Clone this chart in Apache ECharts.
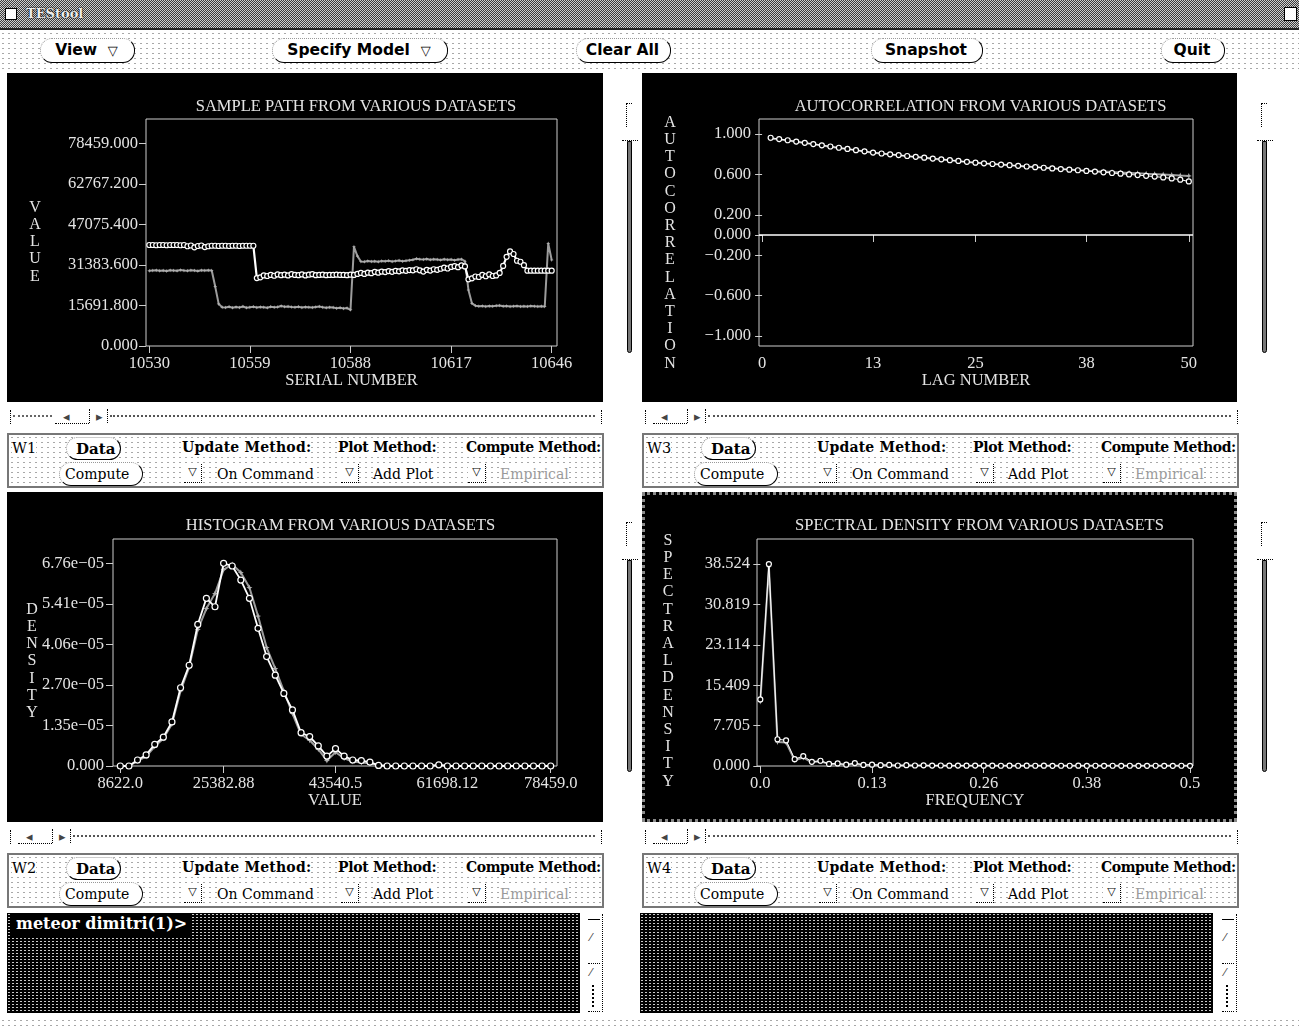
<!DOCTYPE html>
<html>
<head>
<meta charset="utf-8">
<title>TEStool</title>
<script src="https://cdn.jsdelivr.net/npm/echarts@6.0.0/dist/echarts.min.js"></script>
<style>
html,body{margin:0;padding:0;}
body{width:1299px;height:1030px;position:relative;overflow:hidden;background:#fff;font-family:"DejaVu Serif",serif;color:#000;}
.a{position:absolute;}
.dots{background-image:radial-gradient(circle,#a8a8a8 0.55px,transparent 0.75px);background-size:6px 5px;}
#titlebar{left:0;top:0;width:1299px;height:28px;background:repeating-conic-gradient(#3c3c3c 0% 25%,#cfcfcf 0% 50%) 0 0/2px 2px;border-bottom:2px solid #222;}
.tb{font:bold 15.5px "DejaVu Sans",sans-serif;white-space:nowrap;}
.btn{border:1px dotted #999;border-right:1.6px solid #000;border-bottom:1.6px solid #000;border-radius:12px;background:#fff;}
.panel{background:#000;}
.ctrl{border:2px solid #777;box-sizing:border-box;background-color:#fff;}
.term{background-color:#000;background-image:radial-gradient(circle,#c8c8c8 0.7px,transparent 0.9px);background-size:4px 3px;}
.mb{border-right:1px dotted #000;border-bottom:1px dotted #000;width:17px;height:18px;background:#fff;font:11px "DejaVu Sans",sans-serif;text-align:center;line-height:16px;}
.cb{font-family:"DejaVu Serif",serif;font-weight:bold;font-size:14px;background:#fff;}
.cr{font-family:"DejaVu Serif",serif;font-weight:normal;font-size:14px;background:#fff;}
.arr{font-family:"DejaVu Sans",sans-serif;font-size:13px;color:#444;}
</style>
</head>
<body>
<div id="titlebar" class="a"></div>
<div class="a" style="left:5px;top:8px;width:10px;height:10px;background:#fff;border:1px solid #000"></div>
<div class="a" style="left:26px;top:6px;font:bold 13px 'DejaVu Serif',serif;color:#eee;text-shadow:0 0 2px #000,0 0 1px #000;">TEStool</div>
<div class="a" style="left:1284px;top:7px;width:11px;height:12px;background:#fff;border:1px solid #000"></div>

<div class="a dots" style="left:0;top:31px;width:1299px;height:38px;"></div>

<div id="c1" class="a panel" style="left:7px;top:73px;width:596px;height:329px"></div>
<div id="c2" class="a panel" style="left:642px;top:73px;width:595px;height:329px"></div>
<div id="c3" class="a panel" style="left:7px;top:492px;width:596px;height:330px"></div>
<div id="c4" class="a panel" style="left:642px;top:492px;width:595px;height:330px"></div>
<div class="a" style="left:642px;top:492px;width:595px;height:330px;box-sizing:border-box;border:3px dotted #8a8a8a;pointer-events:none;z-index:5"></div>

<div class="a term" style="left:7px;top:913px;width:573px;height:100px"></div>
<div class="a" style="left:10px;top:914px;width:182px;height:22px;background:#000"></div>
<div class="a" style="left:16px;top:914px;font:bold 16px 'DejaVu Serif',serif;color:#fff;white-space:nowrap;">meteor dimitri(1)&gt;</div>
<div class="a term" style="left:640px;top:913px;width:573px;height:100px"></div>
<div class="a dots" style="left:0;top:1018px;width:1299px;height:10px;"></div>

<script>
// ---------------- DATA ----------------
const serials = [10530,10531,10532,10533,10534,10535,10536,10537,10538,10539,10540,10541,10542,10543,10544,10545,10546,10547,10548,10549,
10550,10551,10552,10553,10554,10555,10556,10557,10558,10559,10560,10561,10562,10563,10564,10565,10566,10567,10568,10569,
10570,10571,10572,10573,10574,10575,10576,10577,10578,10579,10580,10581,10582,10583,10584,10585,10586,10587,10588,10589,
10590,10591,10592,10593,10594,10595,10596,10597,10598,10599,10600,10601,10602,10603,10604,10605,10606,10607,10608,10609,
10610,10611,10612,10613,10614,10615,10616,10617,10618,10619,10620,10621,10622,10623,10624,10625,10626,10627,10628,10629,
10630,10631,10632,10633,10634,10635,10636,10637,10638,10639,10640,10641,10642,10643,10644,10645,10646];

const sampleA = [39100,39100,39000,39100,39100,39000,39100,39100,39100,39000,39100,
38600,38900,38200,38700,38900,38300,38600,38800,
38800,38700,38800,38800,38700,38800,38800,38700,38800,38800,38800,38800,
26300,
26600,27300,27100,27500,27200,27700,27400,27600,27300,27800,27500,27400,27700,27300,27600,27800,27400,27500,27600,27400,27500,27500,27600,27500,27500,27400,27600,
27500,27900,28300,27900,28400,28200,28700,28400,28800,28600,29000,28700,29100,28900,29300,29100,29400,29300,29700,
29300,28800,29500,29200,29700,29500,29900,30300,30000,30600,30900,30500,31200,
30800,25800,
26200,26900,26700,27500,27000,27700,27100,27300,28300,
31000,34500,36600,35600,33000,32600,31300,
29150,29150,29150,29150,29150,29150,29150,29150];

const sampleB = [29100,29200,29300,29100,29200,29000,29300,29200,29100,29400,29200,29100,29300,29200,29000,29300,29200,29300,29200,
23000,16300,15000,
14900,15200,14800,15100,14900,15300,14800,15000,15200,14900,15100,15000,14800,15200,15000,15100,15500,15200,15300,15100,15000,15200,14900,15100,15000,14900,15100,15300,15000,14800,15000,14900,14600,14800,14500,14700,
14000,38400,34800,
32700,32600,32900,32700,32800,32600,32900,32800,33000,32700,32900,33100,32800,33000,33200,33400,
33800,33600,33500,33700,33400,33600,33500,33300,33600,33400,33500,33200,33500,33600,
32800,21700,16500,
15600,15400,15500,15300,15500,15400,15600,15700,15400,15500,15300,15400,15500,15300,15400,15300,15500,15400,15300,15400,15300,
39700,33300];

const sampleYTicks = [0, 15691.8, 31383.6, 47075.4, 62767.2, 78459];
const sampleYLabels = ["0.000","15691.800","31383.600","47075.400","62767.200","78459.000"];
const sampleXTicks = [10530, 10559, 10588, 10617, 10646];
const sampleXLabels = ["10530","10559","10588","10617","10646"];

const lags = [1,2,3,4,5,6,7,8,9,10,11,12,13,14,15,16,17,18,19,20,21,22,23,24,25,26,27,28,29,30,31,32,33,34,35,36,37,38,39,40,41,42,43,44,45,46,47,48,49,50];
const acfA = [0.963,0.950,0.938,0.925,0.913,0.900,0.888,0.876,0.864,0.852,0.840,0.828,0.816,0.807,0.799,0.791,0.782,0.774,0.766,0.757,
0.749,0.741,0.733,0.724,0.716,0.710,0.703,0.697,0.691,0.685,0.678,0.672,0.666,0.659,0.653,0.647,0.641,0.634,0.628,0.621,
0.614,0.607,0.600,0.593,0.586,0.578,0.570,0.560,0.548,0.530];
const acfB = [0.955,0.946,0.935,0.923,0.911,0.899,0.887,0.874,0.862,0.851,0.839,0.827,0.815,0.806,0.797,0.789,0.780,0.772,0.764,0.756,
0.748,0.740,0.731,0.723,0.716,0.709,0.703,0.697,0.690,0.684,0.678,0.672,0.666,0.660,0.654,0.648,0.642,0.637,0.632,0.628,
0.623,0.619,0.615,0.611,0.606,0.602,0.598,0.594,0.589,0.585];
const acfYTicks = [-1, -0.6, -0.2, 0, 0.2, 0.6, 1];
const acfYLabels = ["\u22121.000","\u22120.600","\u22120.200","0.000","0.200","0.600","1.000"];
const acfXTicks = [0, 13, 25, 38, 50];
const acfXLabels = ["0","13","25","38","50"];

const histBins = [8622.0,10018.7,11415.5,12812.2,14209.0,15605.7,17002.4,18399.2,19795.9,21192.7,22589.4,23986.1,25382.9,26779.6,28176.4,29573.1,
30969.8,32366.6,33763.3,35160.1,36556.8,37953.5,39350.3,40747.0,42143.8,43540.5,44937.2,46334.0,47730.7,49127.5,50524.2,51920.9,
53317.7,54714.4,56111.2,57507.9,58904.6,60301.4,61698.1,63094.9,64491.6,65888.3,67285.1,68681.8,70078.6,71475.3,72872.0,74268.8,
75665.5,77062.3,78459.0];
const histA = [0,0,2.0e-6,3.7e-6,7.2e-6,9.6e-6,1.47e-5,2.61e-5,3.36e-5,4.72e-5,5.59e-5,5.31e-5,6.76e-5,6.67e-5,6.20e-5,5.59e-5,
4.59e-5,3.65e-5,3.03e-5,2.42e-5,1.87e-5,1.11e-5,9.8e-6,6.7e-6,3.3e-6,5.8e-6,3.3e-6,2.0e-6,1.8e-6,1.3e-6,2e-7,
0,0,0,0,0,0,4e-7,0,0,0,0,0,0,0,0,0,0,0,0,0];
const histB = [0,0,1.6e-6,3.2e-6,6.5e-6,9.2e-6,1.40e-5,2.50e-5,3.30e-5,4.55e-5,5.25e-5,5.75e-5,6.55e-5,6.72e-5,6.45e-5,5.95e-5,
5.00e-5,3.95e-5,3.25e-5,2.50e-5,1.75e-5,1.05e-5,8.6e-6,5.6e-6,1.8e-6,4.6e-6,2.6e-6,1.5e-6,1.2e-6,9e-7,3e-7,
0,0,0,0,0,0,3e-7,0,0,0,0,0,0,0,0,0,0,0,0,0];
const histYTicks = [0, 1.352e-5, 2.704e-5, 4.056e-5, 5.408e-5, 6.76e-5];
const histYLabels = ["0.000","1.35e\u221205","2.70e\u221205","4.06e\u221205","5.41e\u221205","6.76e\u221205"];
const histXTicks = [8622.0, 25382.88, 43540.5, 61698.12, 78459.0];
const histXLabels = ["8622.0","25382.88","43540.5","61698.12","78459.0"];

const freqs = [0,0.01,0.02,0.03,0.04,0.05,0.06,0.07,0.08,0.09,0.10,0.11,0.12,0.13,0.14,0.15,0.16,0.17,0.18,0.19,0.20,
0.21,0.22,0.23,0.24,0.25,0.26,0.27,0.28,0.29,0.30,0.31,0.32,0.33,0.34,0.35,0.36,0.37,0.38,0.39,0.40,
0.41,0.42,0.43,0.44,0.45,0.46,0.47,0.48,0.49,0.50];
const specA = [12.7,38.5,5.1,4.9,1.3,1.9,0.8,1.0,0.4,0.5,0.25,0.55,0.2,0.25,0.15,0.2,0.1,0.15,0.1,0.12,
0.08,0.1,0.07,0.09,0.06,0.08,0.06,0.07,0.05,0.07,0.05,0.06,0.05,0.06,0.04,0.05,0.05,0.06,0.04,0.05,
0.04,0.05,0.04,0.05,0.04,0.04,0.05,0.04,0.04,0.05,0.04];
const specB = [12.3,38.0,4.6,4.5,1.1,1.6,0.7,0.9,0.35,0.45,0.2,0.5,0.15,0.2,0.12,0.15,0.08,0.12,0.08,0.1,
0.06,0.08,0.06,0.07,0.05,0.06,0.05,0.06,0.04,0.06,0.04,0.05,0.04,0.05,0.03,0.04,0.04,0.05,0.03,0.04,
0.03,0.04,0.03,0.04,0.03,0.03,0.04,0.03,0.03,0.04,0.03];
const specYTicks = [0, 7.705, 15.409, 23.114, 30.819, 38.524];
const specYLabels = ["0.000","7.705","15.409","23.114","30.819","38.524"];
const specXTicks = [0, 0.13, 0.26, 0.38, 0.5];
const specXLabels = ["0.0","0.13","0.26","0.38","0.5"];

// ---------------- CHARTS ----------------
const chartFont = '"Liberation Serif","Times New Roman",serif';
const txtColor = '#e4e4e4';
const frameColor = '#cdcdcd';
const starPath = 'path://M0,-1L0.28,-0.28L1,0L0.28,0.28L0,1L-0.28,0.28L-1,0L-0.28,-0.28Z';

function pairs(xs, ys){ return xs.map((x,i)=>[x, ys[i]]); }

function axis(min, max, vals, labels, margin, name, nameGap){
  return {
    type:'value', min:min, max:max,
    axisLine:{show:false}, splitLine:{show:false},
    axisTick:{show:true, customValues:vals, length:7, lineStyle:{color:frameColor, width:1}},
    axisLabel:{customValues:vals, margin:margin, color:txtColor, fontFamily:chartFont, fontSize:16.5,
      formatter:function(v){
        for(let i=0;i<vals.length;i++){ if(Math.abs(vals[i]-v) <= 1e-9*Math.max(1e-4,Math.abs(vals[i]))) return labels[i]; }
        return '';
      }},
    name:name||'', nameLocation:'middle', nameGap:nameGap||0, nameMoveOverlap:false,
    nameTextStyle:{color:txtColor, fontFamily:chartFont, fontSize:16.5}
  };
}

function build(id, o){
  const ch = echarts.init(document.getElementById(id), null, {renderer:'canvas'});
  ch.setOption({
    backgroundColor:'#000', animation:false,
    title:[
      {text:o.title, left:o.titleX, top:20, textAlign:'center',
        textStyle:{color:txtColor, fontFamily:chartFont, fontSize:16.5, fontWeight:'normal'}},
      {text:o.yName.split('').join('\n'), left:o.yNameX, top:o.yNameTop, textAlign:'center',
        textStyle:{color:txtColor, fontFamily:chartFont, fontSize:16, fontWeight:'normal', lineHeight:17.2}}
    ],
    grid:{left:o.grid[0], top:o.grid[1], width:o.grid[2], height:o.grid[3], show:true,
      borderColor:frameColor, borderWidth:1, backgroundColor:'transparent', containLabel:false},
    xAxis:o.xAxis, yAxis:o.yAxis, series:o.series
  });
}

function seriesB(data, size){
  return {type:'line', data:data, symbol:starPath, symbolSize:size||5, showSymbol:true,
    itemStyle:{color:'#b0b0b0'}, lineStyle:{color:'#9c9c9c', width:2}, z:2};
}
function seriesA(data, size, lw){
  return {type:'line', data:data, symbol:'circle', symbolSize:size||5, showSymbol:true,
    itemStyle:{color:'#000', borderColor:'#fff', borderWidth:1.2}, lineStyle:{color:'#fff', width:lw||2}, z:3};
}

build('c1', {
  title:'SAMPLE PATH FROM VARIOUS DATASETS', titleX:344, yName:'VALUE', yNameX:23, yNameTop:121,
  grid:[139,46,411,227],
  xAxis:axis(10529.05, 10647.53, sampleXTicks, sampleXLabels, 9, 'SERIAL NUMBER', 26),
  yAxis:axis(0, 87861, sampleYTicks, sampleYLabels, 8),
  series:[seriesB(pairs(serials, sampleB), 4), seriesA(pairs(serials, sampleA), 5, 2.2)]
});

const acfSeriesA = seriesA(pairs(lags, acfA), 5, 1);
acfSeriesA.markLine = {silent:true, symbol:['none','none'], label:{show:false}, animation:false,
  lineStyle:{type:'solid', color:'#fff', width:1.5}, data:[{yAxis:0}]};
build('c2', {
  title:'AUTOCORRELATION FROM VARIOUS DATASETS', titleX:333.5, yName:'AUTOCORRELATION', yNameX:23, yNameTop:36,
  grid:[117,46,434,227],
  xAxis:axis(-0.363, 50.49, acfXTicks, acfXLabels, 9, 'LAG NUMBER', 26),
  yAxis:axis(-1.099, 1.1485, acfYTicks, acfYLabels, 8),
  series:[seriesB(pairs(lags, acfB), 6), acfSeriesA]
});

build('c3', {
  title:'HISTOGRAM FROM VARIOUS DATASETS', titleX:328.5, yName:'DENSITY', yNameX:20, yNameTop:104,
  grid:[106,47,444,227],
  xAxis:axis(7437.5, 79481, histXTicks, histXLabels, 9, 'VALUE', 26),
  yAxis:axis(0, 7.57e-5, histYTicks, histYLabels, 9),
  series:[seriesB(pairs(histBins, histB), 6), seriesA(pairs(histBins, histA), 6, 1.8)]
});

build('c4', {
  title:'SPECTRAL DENSITY FROM VARIOUS DATASETS', titleX:332.5, yName:'SPECTRALDENSITY', yNameX:21, yNameTop:35,
  grid:[115,47,436,227],
  xAxis:axis(-0.00384, 0.50349, specXTicks, specXLabels, 9, 'FREQUENCY', 26),
  yAxis:axis(0, 43.29, specYTicks, specYLabels, 7),
  series:[seriesB(pairs(freqs, specB), 6), seriesA(pairs(freqs, specA), 5, 1)]
});

// ---------------- UI CHROME ----------------
function add(h){ document.body.insertAdjacentHTML('beforeend', h); }
function txt(x, y, s, cls, style){
  return '<span class="a '+(cls||'')+'" style="left:'+x+'px;top:'+y+'px;transform:translateY(-50%);white-space:nowrap;line-height:1;'+(style||'')+'">'+s+'</span>';
}

// toolbar buttons
function tbtn(l, r, label, hasMenu){
  let h = '<div class="a btn" style="left:'+l+'px;top:38px;width:'+(r-l)+'px;height:23px;"></div>';
  const w = r - l;
  h += '<div class="a tb" style="left:'+l+'px;top:41px;width:'+w+'px;text-align:center;">'+label+(hasMenu?'&nbsp;&nbsp;<span style="font-weight:normal;font-size:13px">\u25BD</span>':'')+'</div>';
  add(h);
}
tbtn(40,133,'View',true);
tbtn(272,446,'Specify Model',true);
tbtn(576,669,'Clear All',false);
tbtn(871,981,'Snapshot',false);
tbtn(1161,1223,'Quit',false);

// control boxes
function ctrl(id, L, T){
  let h = '<div class="a ctrl dots" style="left:'+L+'px;top:'+T+'px;width:597px;height:55px;">';
  h += txt(3,13,id,'cr','font-size:14.5px;');
  h += '<div class="a btn" style="left:57px;top:2px;width:53px;height:21px;"></div>';
  h += txt(67,14,'Data','cb','font-size:15px;background:transparent;');
  h += txt(173,12,'Update Method:','cb','letter-spacing:0.2px;');
  h += txt(329,12,'Plot Method:','cb','letter-spacing:-0.3px;');
  h += txt(457,12,'Compute Method:','cb','letter-spacing:-0.4px;');
  h += '<div class="a btn" style="left:50px;top:27px;width:82px;height:22px;"></div>';
  h += txt(56,39,'Compute','cr','background:transparent;');
  h += '<div class="a mb" style="left:175px;top:29px;">\u25BD</div>';
  h += txt(208,39,'On Command','cr');
  h += '<div class="a mb" style="left:332px;top:29px;">\u25BD</div>';
  h += txt(364,39,'Add Plot','cr');
  h += '<div class="a mb" style="left:459px;top:29px;">\u25BD</div>';
  h += txt(491,39,'Empirical','cr','color:#9a9a9a;');
  h += '</div>';
  add(h);
}
ctrl('W1',7,433);
ctrl('W3',642,433);
ctrl('W2',7,853);
ctrl('W4',642,853);

// horizontal scrollbars
function hscroll(L, T, W, off, lead){
  let h = '<div class="a" style="left:'+L+'px;top:'+T+'px;width:'+W+'px;height:16px;">';
  h += '<div class="a" style="left:0;top:2px;height:14px;border-left:1px dotted #000"></div>';
  h += '<div class="a" style="left:'+(W-1)+'px;top:2px;height:14px;border-left:1px dotted #000"></div>';
  if(lead) h += '<div class="a" style="left:3px;top:7px;width:'+(off-6)+'px;border-top:2px dotted #666"></div>';
  h += '<div class="a" style="left:'+off+'px;top:15px;width:34px;border-top:1px dotted #000"></div>';
  h += txt(off+8,8,'\u25C2','arr');
  h += '<div class="a" style="left:'+(off+34)+'px;top:1px;height:14px;border-left:1px dotted #000"></div>';
  h += txt(off+41,8,'\u25B8','arr');
  h += '<div class="a" style="left:'+(off+52)+'px;top:1px;height:14px;border-left:1px dotted #000"></div>';
  h += '<div class="a" style="left:'+(off+55)+'px;top:7px;width:'+(W-off-62)+'px;border-top:2px dotted #555"></div>';
  h += '</div>';
  add(h);
}
hscroll(10,408,592,45,true);
hscroll(645,408,593,8,false);
hscroll(10,828,592,8,false);
hscroll(645,828,593,8,false);

// vertical scrollbars
function vscroll(x, top){
  let h = '<div class="a" style="left:'+(x-1)+'px;top:'+top+'px;width:5px;height:23px;border-left:1px dotted #000;border-top:1px dotted #000"></div>';
  h += '<div class="a" style="left:'+(x-5)+'px;top:'+(top+37)+'px;width:16px;border-top:1px dotted #000"></div>';
  h += '<div class="a" style="left:'+x+'px;top:'+(top+38)+'px;width:3px;height:210px;background:#777;border:1px solid #000;border-radius:0 0 3px 3px"></div>';
  add(h);
}
vscroll(627,103);
vscroll(1262,103);
vscroll(627,522);
vscroll(1262,522);

// terminal side widgets
function termSide(x){
  let h = '<div class="a" style="left:'+x+'px;top:914px;width:16px;height:98px;border-right:1px dotted #000"></div>';
  h += '<div class="a" style="left:'+(x+2)+'px;top:919px;width:12px;border-top:1.5px solid #000"></div>';
  h += txt(x+4,937,'\u2044','arr','font-size:11px;');
  h += '<div class="a" style="left:'+(x+2)+'px;top:963px;width:12px;border-top:1px dotted #000"></div>';
  h += txt(x+4,972,'\u2044','arr','font-size:11px;');
  h += '<div class="a" style="left:'+(x+6)+'px;top:985px;height:22px;border-left:2px dotted #000"></div>';
  h += '<div class="a" style="left:'+(x+2)+'px;top:1011px;width:12px;border-top:1px dotted #000"></div>';
  add(h);
}
termSide(586);
termSide(1220);
</script>
</body>
</html>
